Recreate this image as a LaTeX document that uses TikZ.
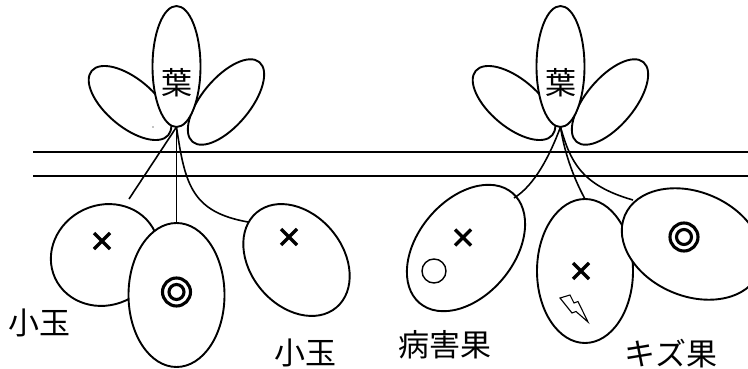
\documentclass[tikz,border=0pt]{standalone}
\usepackage{fontspec}
\newfontfamily\jp{Noto Sans CJK JP}
\usetikzlibrary{shapes.geometric}
\tikzset{
  outl/.style={draw, line width=1.9pt, fill=white, ellipse, inner sep=0pt, outer sep=0pt},
  stem/.style={line width=1.6pt},
  hline/.style={line width=1.9pt},
  xmark/.style={line width=3.5pt},
  ring/.style={line width=3.1pt},
  lab/.style={font=\jp\fontsize{31}{31}\selectfont, inner sep=0pt},
  xm/.pic={\draw[xmark] (-8pt,-8pt) -- (8pt,8pt) (-8pt,8pt) -- (8pt,-8pt);},
  dc/.pic={\draw[ring] (0,0) circle (14pt) (0,0) circle (7.5pt);}
}
\begin{document}
\begin{tikzpicture}[x=1pt,y=-1pt]
\useasboundingbox (0,0) rectangle (748,369);
\clip (0,0) rectangle (748,369);
% ground lines
\coordinate (h1a) at (33,152); \coordinate (h1b) at (748,152);
\coordinate (h2a) at (33,176); \coordinate (h2b) at (748,176);
\draw[hline] (h1a) -- (h1b);
\draw[hline] (h2a) -- (h2b);
% ---------- left cluster ----------
\node[outl, minimum width=100pt, minimum height=48pt, rotate=-40] (leafLL) at (130,103) {};
\node[outl, minimum width=104pt, minimum height=48pt, rotate=50] (leafLR) at (226,102) {};
\node[outl, minimum width=48pt, minimum height=121pt] (leafLC) at (176.5,66.5) {};
\node[lab] (tLC) at (176.5,83) {葉};
\fill (153,127) circle (0.6pt);
\node[outl, minimum width=110pt, minimum height=100pt, rotate=25] (fLL) at (105,255) {};
\node[outl, minimum width=124pt, minimum height=92pt, rotate=-50] (fLR) at (296.5,260) {};
\node[outl, minimum width=96pt, minimum height=144pt] (fLC) at (176.5,295) {};
\coordinate (apexL) at (leafLC.south);
\coordinate (sL1) at (129,199);
\coordinate (sL3) at (248,222);
\draw[stem] (apexL) -- (sL1);
\draw[stem] (apexL) -- (fLC.north);
\draw[stem] (apexL) .. controls (185,185) and (192,212) .. (sL3);
\pic at (102,241) {xm};
\pic at (289,237) {xm};
\pic at (176.5,292) {dc};
\node[lab] (lab1) at (40,322.5) {小玉};
\node[lab] (lab2) at (305,352.5) {小玉};
% ---------- right cluster ----------
\node[outl, minimum width=100pt, minimum height=48pt, rotate=-40] (leafRL) at (514,103) {};
\node[outl, minimum width=104pt, minimum height=48pt, rotate=50] (leafRR) at (610,102) {};
\node[outl, minimum width=48pt, minimum height=121pt] (leafRC) at (560.5,66.5) {};
\node[lab] (tRC) at (560.5,83) {葉};
\node[outl, minimum width=144pt, minimum height=96pt, rotate=50] (fRL) at (466,248) {};
\node[outl, minimum width=96pt, minimum height=144pt] (fRC) at (585,271) {};
\node[outl, minimum width=146pt, minimum height=104pt, rotate=-23] (fRR) at (692,244) {};
\coordinate (apexR) at (leafRC.south);
\coordinate (sR1) at (514,198);
\coordinate (sR3) at (633,200);
\draw[stem] (apexR) .. controls (550,155) and (535,185) .. (sR1);
\draw[stem] (apexR) .. controls (564,150) and (572,175) .. (fRC.north);
\draw[stem] (apexR) .. controls (570,160) and (580,185) .. (sR3);
\pic at (463,237.5) {xm};
\draw[line width=1.4pt] (434,271) circle (12pt);
\pic at (581,271) {xm};
\draw[line width=1.1pt, line join=miter] (560,298) -- (570,295) -- (574,303) -- (578,301.5) -- (588,322) -- (576,311.5) -- (572,313) -- cycle;
\pic at (684,237) {dc};
\node[lab] (lab3) at (445,345) {病害果};
\node[lab] (lab4) at (671,353.5) {キズ果};
\end{tikzpicture}
\end{document}
